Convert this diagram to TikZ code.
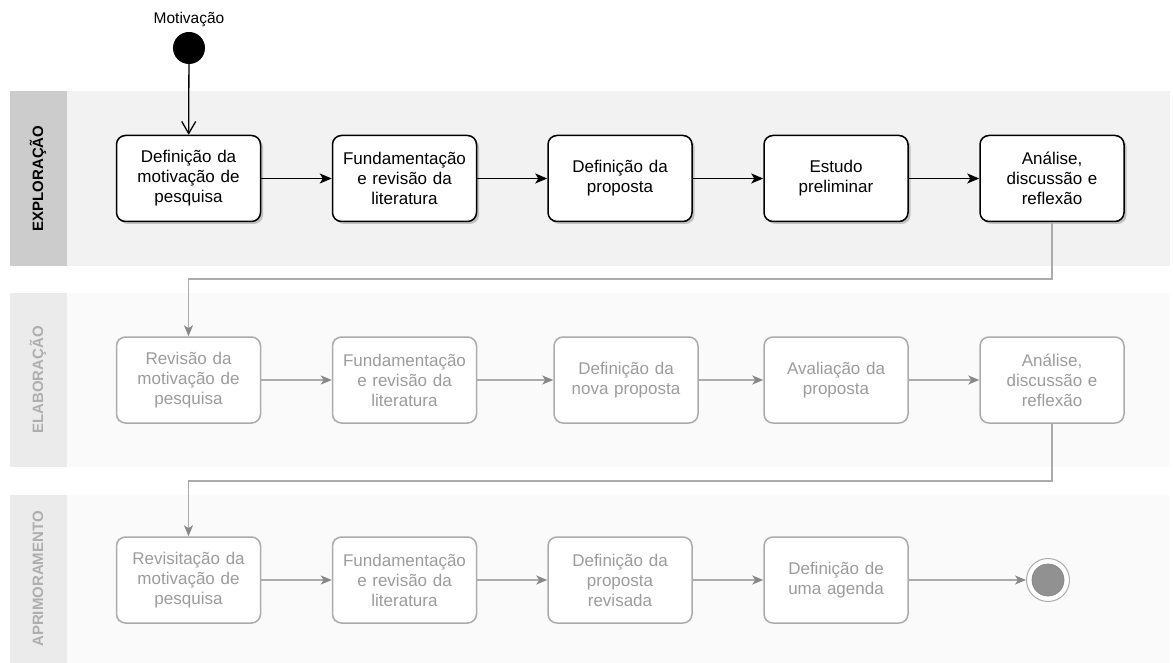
\documentclass[tikz,border=0pt]{standalone}
\usepackage{fontspec}
\setmainfont{Liberation Sans}
\usetikzlibrary{arrows.meta,shadows}

\definecolor{lanebgA}{HTML}{F2F2F2}
\definecolor{stripA}{HTML}{CCCCCC}
\definecolor{lanebgB}{HTML}{FAFAFA}
\definecolor{stripB}{HTML}{EBEBEB}
\definecolor{fadedline}{HTML}{ABABAB}
\definecolor{fadedtext}{HTML}{9C9C9C}
\definecolor{fadedtip}{HTML}{888888}
\definecolor{lanetext}{HTML}{AEAEAE}

\begin{document}
\begin{tikzpicture}[x=1pt, y=-1pt,
	box/.style={rounded corners=9pt, minimum width=144pt, minimum height=86pt, text width=140pt, align=center, inner sep=0pt, line width=1.5pt, font=\fontsize{17}{20}\selectfont},
	active/.style={box, draw=black, fill=white, drop shadow={shadow xshift=2.5pt, shadow yshift=-2.5pt, fill=black!40, opacity=0.55}},
	faded/.style={box, draw=fadedline, fill=white, text=fadedtext},
	lanelabel/.style={rotate=90, font=\bfseries\fontsize{15}{18}\selectfont},
	flow/.style={line width=1.4pt, -{Stealth[length=12pt, width=10pt, inset=3pt]}},
	fadedflow/.style={line width=1.4pt, draw=fadedline, -{Stealth[length=11pt, width=9pt, inset=3pt, color=fadedtip, fill=fadedtip]}}]
	\useasboundingbox (0,0) rectangle (1173,663);
	% lanes
	\fill[lanebgA] (10,91) rectangle (1170,266);
	\fill[stripA] (10,91) rectangle (67,266);
	\fill[lanebgB] (10,293) rectangle (1170,467);
	\fill[stripB] (10,293) rectangle (67,467);
	\fill[lanebgB] (10,495) rectangle (1170,663);
	\fill[stripB] (10,495) rectangle (67,663);
	\node[lanelabel, text=black] (lanA) at (38,178.5) {EXPLORAÇÃO};
	\node[lanelabel, text=lanetext] (lanB) at (38,380) {ELABORAÇÃO};
	\node[lanelabel, text=lanetext] (lanC) at (38,579) {APRIMORAMENTO};

	% start
	\node[circle, fill=black, minimum size=32pt, inner sep=0pt, label={[font=\fontsize{15.5}{18}\selectfont, label distance=1pt]above:Motivação}] (start) at (189,48) {};

	% exploracao
	\node[active] (exp1) at (188.5,178.5) {Definição da\\motivação de\\pesquisa};
	\node[active] (exp2) at (404.5,178.5) {Fundamentação\\e revisão da\\literatura};
	\node[active] (exp3) at (620,178.5) {Definição da\\proposta};
	\node[active] (exp4) at (836,178.5) {Estudo\\preliminar};
	\node[active] (exp5) at (1052,178.5) {Análise,\\discussão e\\reflexão};

	% elaboracao
	\node[faded] (ela1) at (188.5,380) {Revisão da\\motivação de\\pesquisa};
	\node[faded] (ela2) at (404.5,380) {Fundamentação\\e revisão da\\literatura};
	\node[faded] (ela3) at (626,380) {Definição da\\nova proposta};
	\node[faded] (ela4) at (836,380) {Avaliação da\\proposta};
	\node[faded] (ela5) at (1052,380) {Análise,\\discussão e\\reflexão};

	% aprimoramento
	\node[faded] (apr1) at (188.5,580) {Revisitação da\\motivação de\\pesquisa};
	\node[faded] (apr2) at (404.5,580) {Fundamentação\\e revisão da\\literatura};
	\node[faded] (apr3) at (620,580) {Definição da\\proposta\\revisada};
	\node[faded] (apr4) at (836,580) {Definição de\\uma agenda};
	\node[circle, draw=fadedline, fill=white, line width=1pt, minimum size=43pt, inner sep=0pt] (end) at (1048,580) {};
	\fill[fill=fadedline!85!black, draw=fadedtip, line width=0.8pt] (end.center) circle (16);

	% connectors
	\draw[line width=1.3pt, -{Straight Barb[length=12pt, width=14pt]}] (start) -- (exp1);
	\draw[flow] (exp1) -- (exp2);
	\draw[flow] (exp2) -- (exp3);
	\draw[flow] (exp3) -- (exp4);
	\draw[flow] (exp4) -- (exp5);
	\draw[fadedflow] (exp5.south) -- (exp5.south |- 0,279) -| (ela1.north);
	\draw[fadedflow] (ela1) -- (ela2);
	\draw[fadedflow] (ela2) -- (ela3);
	\draw[fadedflow] (ela3) -- (ela4);
	\draw[fadedflow] (ela4) -- (ela5);
	\draw[fadedflow] (ela5.south) -- (ela5.south |- 0,481) -| (apr1.north);
	\draw[fadedflow] (apr1) -- (apr2);
	\draw[fadedflow] (apr2) -- (apr3);
	\draw[fadedflow] (apr3) -- (apr4);
	\draw[fadedflow] (apr4) -- (end);
\end{tikzpicture}
\end{document}
